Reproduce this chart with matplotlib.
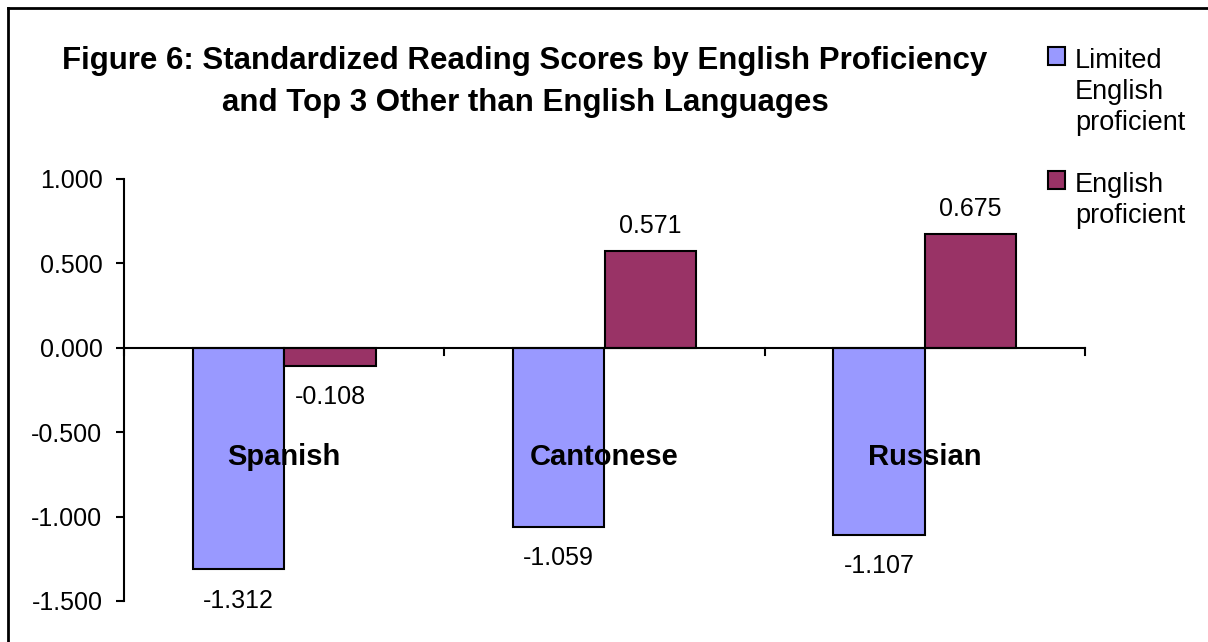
import numpy as np
import matplotlib.pyplot as plt
from matplotlib.patches import Rectangle
from matplotlib.lines import Line2D

# data
languages = ['Spanish', 'Cantonese', 'Russian']
series_names = ['Limited\nEnglish\nproficient', 'English\nproficient']
limited = [-1.312, -1.059, -1.107]
proficient = [-0.108, 0.571, 0.675]
colors = ['#9999FF', '#993366']

plt.rcParams['font.family'] = ['Liberation Sans', 'DejaVu Sans']

fig = plt.figure(figsize=(12.08, 6.42), dpi=100)
ax = fig.add_axes([124 / 1208, 1 - 601 / 642, (1085 - 124) / 1208, (601 - 179) / 642])

x = np.arange(len(languages))
w = 0.286
b1 = ax.bar(x - w / 2, limited, w, color=colors[0], edgecolor='black', linewidth=1.5)
b2 = ax.bar(x + w / 2, proficient, w, color=colors[1], edgecolor='black', linewidth=1.5)

for bars, vals in [(b1, limited), (b2, proficient)]:
    for r, v in zip(bars, vals):
        off = 18 if v >= 0 else -22.5
        ax.annotate(f'{v:.3f}', (r.get_x() + r.get_width() / 2, v),
                    xytext=(0, off), textcoords='offset points',
                    ha='center', va='center', fontsize=18)

for xi, lang in zip(x, languages):
    ax.text(xi, -0.645, lang, ha='center', va='center', fontsize=21, fontweight='bold')

ax.set_xlim(-0.5, 2.5)
ax.set_ylim(-1.5, 1.0)
yt = np.arange(-1.5, 1.01, 0.5)
ax.set_yticks(yt)
ax.set_yticklabels([f'{t:.3f}' for t in yt], fontsize=18)
ax.tick_params(axis='y', direction='out', length=6, width=1.5, pad=9.5)

for s in ['top', 'right', 'bottom']:
    ax.spines[s].set_visible(False)
ax.spines['left'].set_linewidth(1.5)
ax.axhline(0, color='black', linewidth=1.5, clip_on=False)
ax.set_xticks([])
for t in np.arange(-0.5, 2.51, 1.0):
    ax.plot([t, t], [0, -0.045], color='black', linewidth=1.5, clip_on=False)

# title
fig.text(525 / 1208, 1 - 46 / 642,
         'Figure 6: Standardized Reading Scores by English Proficiency\nand Top 3 Other than English Languages',
         ha='center', va='top', fontsize=22.5, fontweight='bold', linespacing=1.5)

# legend drawn by hand so the swatch sits on the first line
legend_tops = [47, 171]
for name, c, top in zip(series_names, colors, legend_tops):
    fig.patches.append(Rectangle((1048 / 1208, 1 - (top + 18) / 642), 17 / 1208, 18 / 642,
                                 transform=fig.transFigure, facecolor=c,
                                 edgecolor='black', linewidth=1.5))
    fig.text(1075 / 1208, 1 - (top + 1) / 642, name, ha='left', va='top',
             fontsize=19.5, linespacing=1.25)

# outer chart border (left and top visible)
fig.add_artist(Line2D([8 / 1208, 8 / 1208], [0, 1 - 8 / 642], color='black', linewidth=2,
                      transform=fig.transFigure))
fig.add_artist(Line2D([8 / 1208, 1], [1 - 8 / 642, 1 - 8 / 642], color='black', linewidth=2,
                      transform=fig.transFigure))

fig.savefig('out.png', dpi=100)
